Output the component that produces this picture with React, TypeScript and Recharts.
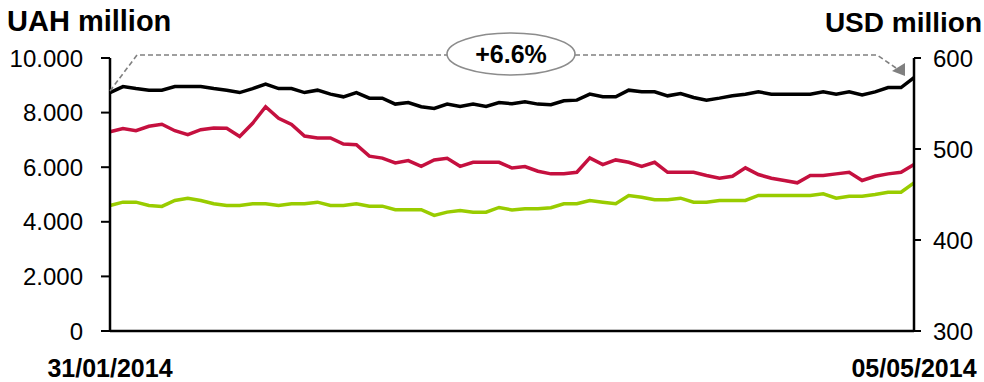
import React from 'react';
import { LineChart, Line, XAxis, YAxis } from 'recharts';

const dates = [
  '31/01/2014','03/02/2014','04/02/2014','05/02/2014','06/02/2014','07/02/2014','10/02/2014','11/02/2014','12/02/2014','13/02/2014',
  '14/02/2014','17/02/2014','18/02/2014','19/02/2014','20/02/2014','21/02/2014','24/02/2014','25/02/2014','26/02/2014','27/02/2014',
  '28/02/2014','03/03/2014','04/03/2014','05/03/2014','06/03/2014','07/03/2014','11/03/2014','12/03/2014','13/03/2014','14/03/2014',
  '17/03/2014','18/03/2014','19/03/2014','20/03/2014','21/03/2014','24/03/2014','25/03/2014','26/03/2014','27/03/2014','28/03/2014',
  '31/03/2014','01/04/2014','02/04/2014','03/04/2014','04/04/2014','07/04/2014','08/04/2014','09/04/2014','10/04/2014','11/04/2014',
  '14/04/2014','15/04/2014','16/04/2014','17/04/2014','18/04/2014','22/04/2014','23/04/2014','24/04/2014','25/04/2014','28/04/2014',
  '29/04/2014','30/04/2014','05/05/2014'
];

const blackSeries = [
  8734, 8953, 8880, 8822, 8822, 8953, 8953, 8953, 8880, 8822,
  8734, 8880, 9041, 8880, 8880, 8734, 8822, 8676, 8578, 8734,
  8530, 8530, 8311, 8369, 8213, 8150, 8311, 8223, 8311, 8223,
  8369, 8322, 8395, 8311, 8286, 8432, 8457, 8676, 8578, 8578,
  8822, 8760, 8760, 8614, 8698, 8552, 8457, 8530, 8614, 8676,
  8760, 8676, 8676, 8676, 8676, 8760, 8676, 8760, 8650, 8760,
  8917, 8917, 9282
];

const redSeries = [
  7300, 7420, 7337, 7500, 7574, 7337, 7190, 7373, 7435, 7427,
  7128, 7610, 8213, 7793, 7566, 7143, 7070, 7070, 6851, 6826,
  6406, 6333, 6157, 6242, 6033, 6267, 6325, 6033, 6180, 6180,
  6180, 5968, 6023, 5851, 5756, 5756, 5814, 6340, 6096, 6267,
  6180, 6033, 6180, 5814, 5814, 5814, 5694, 5595, 5668, 5975,
  5731, 5595, 5512, 5428, 5694, 5694, 5756, 5814, 5512, 5668,
  5756, 5814, 6096
];

const greenSeries = [
  4599, 4719, 4719, 4599, 4563, 4782, 4865, 4782, 4661, 4599,
  4599, 4661, 4661, 4599, 4661, 4661, 4719, 4599, 4599, 4661,
  4573, 4573, 4442, 4442, 4442, 4234, 4354, 4417, 4354, 4354,
  4526, 4435, 4479, 4479, 4515, 4661, 4661, 4782, 4719, 4661,
  4964, 4902, 4807, 4807, 4865, 4719, 4719, 4782, 4782, 4782,
  4964, 4964, 4964, 4964, 4964, 5026, 4865, 4938, 4938, 5000,
  5084, 5084, 5428
];

const leftTicks = [0, 2000, 4000, 6000, 8000, 10000];
const rightTicks = [300, 400, 500, 600];
const xTicks = [dates[0], dates[dates.length - 1]];
const changeLabel = '+6.6%';

const data = dates.map((d, i) => ({
  date: d,
  black: blackSeries[i],
  red: redSeries[i],
  green: greenSeries[i],
}));

const FONT = '"Liberation Sans", Arial, sans-serif';

const fmtLeft = (v: number) => (v === 0 ? '0' : `${v / 1000}.000`);

export default function App() {
  return (
    <div style={{ position: 'absolute', left: 0, top: 0, width: 984, height: 382, background: '#fff', fontFamily: FONT }}>
      <LineChart width={984} height={382} data={data} margin={{ top: 58, right: 0, bottom: 0, left: 0 }}>
        <XAxis
          dataKey="date"
          ticks={xTicks}
          interval={0}
          height={51}
          tickLine={false}
          tickSize={0}
          tickMargin={28}
          axisLine={{ stroke: '#000', strokeWidth: 2.5 }}
          tick={{ fill: '#000', fontSize: 25, fontWeight: 'bold', fontFamily: FONT }}
        />
        <YAxis
          yAxisId="left"
          orientation="left"
          width={110}
          domain={[0, 10000]}
          ticks={leftTicks}
          interval={0}
          tickFormatter={fmtLeft}
          tickSize={9}
          tickMargin={18}
          axisLine={{ stroke: '#000', strokeWidth: 2.5 }}
          tickLine={{ stroke: '#000', strokeWidth: 2 }}
          tick={{ fill: '#000', fontSize: 24, fontFamily: FONT }}
        />
        <YAxis
          yAxisId="right"
          orientation="right"
          width={70}
          domain={[300, 600]}
          allowDataOverflow
          ticks={rightTicks}
          interval={0}
          tickSize={7}
          tickMargin={12}
          axisLine={{ stroke: '#000', strokeWidth: 2.5 }}
          tickLine={{ stroke: '#000', strokeWidth: 2 }}
          tick={{ fill: '#000', fontSize: 24, fontFamily: FONT }}
        />
        <Line yAxisId="left" type="linear" dataKey="green" stroke="#99CC00" strokeWidth={3.5} dot={false} isAnimationActive={false} />
        <Line yAxisId="left" type="linear" dataKey="red" stroke="#C5103F" strokeWidth={3.5} dot={false} isAnimationActive={false} />
        <Line yAxisId="left" type="linear" dataKey="black" stroke="#000000" strokeWidth={3.5} dot={false} isAnimationActive={false} />
      </LineChart>
      <svg width={984} height={382} style={{ position: 'absolute', left: 0, top: 0, pointerEvents: 'none' }}>
        <text x={7} y={31} fontSize={29} fontWeight="bold" fontFamily={FONT} fill="#000">UAH million</text>
        <text x={982} y={32} fontSize={28} fontWeight="bold" fontFamily={FONT} fill="#000" textAnchor="end">USD million</text>
        <path d="M110,91 L137,55 L447,55 M575,55 L877,55 L896,68" fill="none" stroke="#808080" strokeWidth={1.6} strokeDasharray="5,3" />
        <polygon points="892,71 905,63 905,76" fill="#808080" />
        <ellipse cx={511} cy={54} rx={64} ry={21} fill="#fff" stroke="#8c8c8c" strokeWidth={1.6} />
        <text x={511} y={63} fontSize={25} fontWeight="bold" fontFamily={FONT} fill="#000" textAnchor="middle">{changeLabel}</text>
      </svg>
    </div>
  );
}
